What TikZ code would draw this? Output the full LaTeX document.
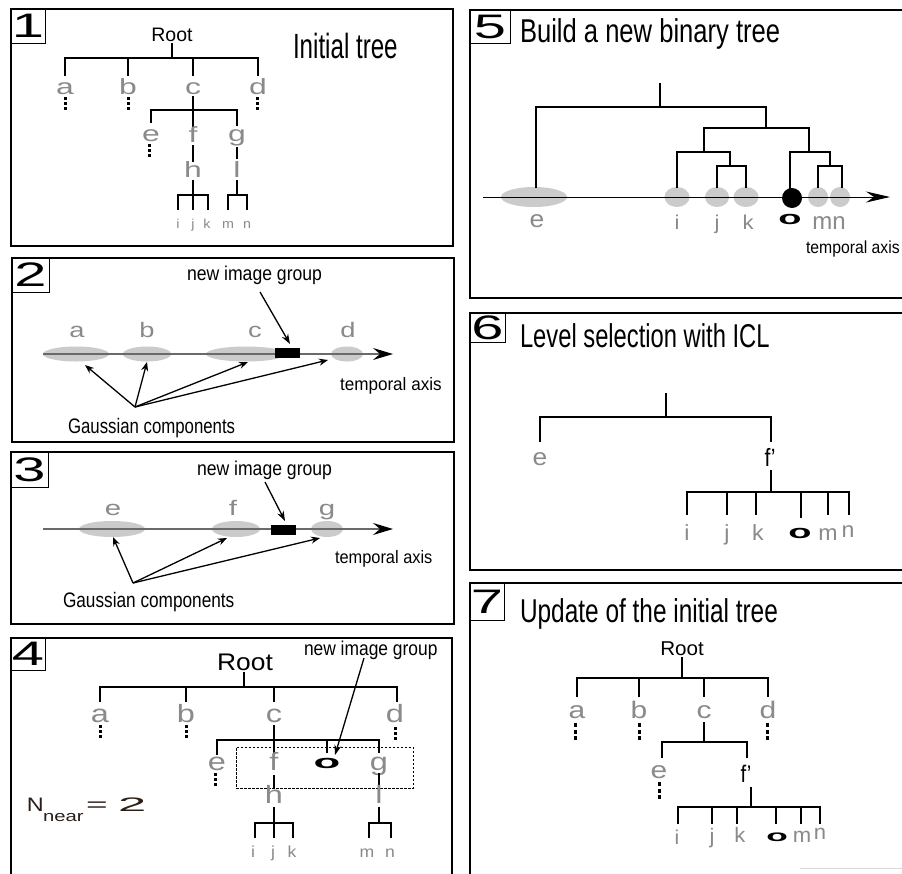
\documentclass[tikz,border=0pt]{standalone}
\usepackage{fontspec}
\setmainfont{Liberation Sans}
\usepackage{graphicx}
\usetikzlibrary{arrows.meta}
\definecolor{lettergray}{HTML}{8A8A8A}
\definecolor{blobgray}{HTML}{CBCBCB}
\definecolor{axisgray}{HTML}{6A6A6A}
\definecolor{nearbrown}{HTML}{2A1E16}
\newcommand{\sx}[3]{\scalebox{#1}[1]{\fontsize{#2}{#2}\selectfont #3}}
\newcommand{\bo}[2]{\scalebox{#1}[1]{\fontsize{#2}{#2}\selectfont\bfseries o}}
\newcommand{\dig}[1]{\sx{1.7}{34}{#1}}
\newcommand{\fprime}{f\symbol{39}}
\begin{document}
\begin{tikzpicture}[x=1pt,y=-1pt,
  every node/.style={inner sep=0pt,outer sep=0pt},
  frame/.style={draw=black,line width=1.2pt},
  numbox/.style={draw=black,line width=0.9pt,anchor=north west},
  txt/.style={anchor=base west,text=black},
  ctr/.style={anchor=base,text=black},
  gl/.style={anchor=base,text=lettergray},
  branch/.style={line width=2.8pt,line join=miter},
  twig/.style={line width=2.2pt,line join=miter},
  vdots/.style={line width=3pt,dash pattern=on 3pt off 2pt},
  vdotsl/.style={line width=3pt,dash pattern=on 4pt off 2.5pt},
  blob/.style={fill=blobgray},
  garrow/.style={line width=1.3pt,-{Stealth[length=9pt,width=7pt]}},
  narrow/.style={line width=1.3pt,-{Stealth[length=10pt,width=7pt]}},
  axisg/.style={draw=axisgray,line width=1.5pt,-{Stealth[length=20pt,width=12pt,inset=7pt,color=black]}},
  axisb/.style={draw=black,line width=1pt,-{Stealth[length=24pt,width=11pt,inset=8pt]}},
  grp/.style={fill=black,minimum width=25pt,minimum height=10pt},
]
\useasboundingbox (0,0) rectangle (902,873);
\fill[white] (0,0) rectangle (902,873);

%================ Panel 1
\draw[frame] (11,9) rectangle (453,246);
\node[numbox,minimum width=34pt,minimum height=34pt] (n1) at (11,9) {\dig{1}};
\node[ctr] (root1) at (172,41) {\sx{1}{19.5}{Root}};
\node[txt] (title1) at (293,58) {\sx{0.69}{35}{Initial tree}};
\draw[branch] (172,43) -- (172,58);
\draw[branch] (65,76) -- (65,58) -- (258,58) -- (258,76);
\draw[branch] (128,58) -- (128,76);
\draw[branch] (193,58) -- (193,76);
\node[gl] (a1) at (65,94) {\sx{1.45}{22}{a}};
\node[gl] (b1) at (128,94) {\sx{1.45}{22}{b}};
\node[gl] (c1) at (193,94) {\sx{1.45}{22}{c}};
\node[gl] (d1) at (258,94) {\sx{1.45}{22}{d}};
\draw[vdots] (65,97) -- (65,110);
\draw[vdots] (128,97) -- (128,110);
\draw[vdots] (257,97) -- (257,110);
\draw[branch] (193,96) -- (193,110);
\draw[branch] (151,123) -- (151,110) -- (237,110) -- (237,126);
\draw[branch] (193,110) -- (193,128);
\node[gl] (e1) at (151,141) {\sx{1.45}{22}{e}};
\node[gl] (f1) at (193,142) {\sx{1.45}{22}{f}};
\node[gl] (g1) at (237,141) {\sx{1.45}{22}{g}};
\draw[vdots] (149,144) -- (149,157);
\draw[branch] (193,145) -- (193,162);
\draw[branch] (237,147) -- (237,159);
\node[gl] (h1) at (193,177) {\sx{1.45}{22}{h}};
\node[gl] (l1) at (237,177) {\sx{1.45}{22}{l}};
\draw[branch] (193,180) -- (193,195);
\draw[twig] (178,210) -- (178,195) -- (208,195) -- (208,210);
\draw[twig] (193,195) -- (193,210);
\draw[branch] (237,180) -- (237,195);
\draw[twig] (228,210) -- (228,195) -- (247,195) -- (247,210);
\node[gl] (i1) at (178,228) {\sx{1.1}{13}{i}};
\node[gl] (j1) at (193,228) {\sx{1.1}{13}{j}};
\node[gl] (k1) at (207,228) {\sx{1.1}{13}{k}};
\node[gl] (m1) at (228,228) {\sx{1.1}{13}{m}};
\node[gl] (nn1) at (247,228) {\sx{1.1}{13}{n}};

%================ Panel 2
\draw[frame] (12,258) rectangle (454,442);
\node[numbox,minimum width=37pt,minimum height=34pt] (n2) at (12,258) {\dig{2}};
\fill[blob] (76,354) ellipse [x radius=33pt,y radius=7.5pt];
\fill[blob] (147,354) ellipse [x radius=24pt,y radius=7.5pt];
\fill[blob] (246,354) ellipse [x radius=40pt,y radius=7.5pt];
\fill[blob] (347,354) ellipse [x radius=16pt,y radius=7.5pt];
\coordinate (ax2s) at (43,354);
\coordinate (ax2e) at (393,354);
\draw[axisg] (ax2s) -- (ax2e);
\node[grp] (grp2) at (287.5,353) {};
\node[gl] (a2) at (77,337) {\sx{1.3}{21}{a}};
\node[gl] (b2) at (147,337) {\sx{1.3}{21}{b}};
\node[gl] (c2) at (255,337) {\sx{1.3}{21}{c}};
\node[gl] (d2) at (348,337) {\sx{1.3}{21}{d}};
\node[txt] (nig2) at (187,280) {\sx{0.88}{20}{new image group}};
\coordinate (nig2t) at (260,292);
\draw[narrow] (nig2t) -- (290,344);
\node[txt] (ta2) at (340,390) {\sx{0.95}{18}{temporal axis}};
\node[txt] (gc2) at (68,433) {\sx{0.8}{21}{Gaussian components}};
\coordinate (gs2) at (135,407);
\draw[garrow] (gs2) -- (85,365);
\draw[garrow] (gs2) -- (147,362);
\draw[garrow] (gs2) -- (248,362);
\draw[garrow] (gs2) -- (328,360);

%================ Panel 3
\draw[frame] (11,452) rectangle (454,624);
\node[numbox,minimum width=37pt,minimum height=35pt] (n3) at (11,452) {\dig{3}};
\fill[blob] (112,529) ellipse [x radius=33pt,y radius=8pt];
\fill[blob] (236,529) ellipse [x radius=24pt,y radius=8pt];
\fill[blob] (327,529) ellipse [x radius=16pt,y radius=8pt];
\coordinate (ax3s) at (43,529);
\coordinate (ax3e) at (393,529);
\draw[axisg] (ax3s) -- (ax3e);
\node[grp] (grp3) at (283.5,530) {};
\node[gl] (e3) at (113,515) {\sx{1.4}{21}{e}};
\node[gl] (f3) at (233,515) {\sx{1.4}{21}{f}};
\node[gl] (g3) at (327,515) {\sx{1.4}{21}{g}};
\node[txt] (nig3) at (197,475) {\sx{0.88}{20}{new image group}};
\coordinate (nig3t) at (265,482);
\draw[narrow] (nig3t) -- (285,521);
\node[txt] (ta3) at (335,563) {\sx{0.91}{18}{temporal axis}};
\node[txt] (gc3) at (63,607) {\sx{0.82}{21}{Gaussian components}};
\coordinate (gs3) at (133,583);
\draw[garrow] (gs3) -- (113,537);
\draw[garrow] (gs3) -- (227,538);
\draw[garrow] (gs3) -- (320,538);

%================ Panel 4
\draw[frame] (11,638) rectangle (452,890);
\node[numbox,minimum width=34pt,minimum height=32pt] (n4) at (11,638) {\dig{4}};
\node[ctr] (root4) at (245,670) {\sx{1.1}{24}{Root}};
\node[txt] (nig4) at (304,655) {\sx{0.87}{20}{new image group}};
\draw[branch] (244,672) -- (244,687);
\draw[branch] (100,702) -- (100,687) -- (397,687) -- (397,702);
\draw[branch] (186,687) -- (186,702);
\draw[branch] (274,687) -- (274,702);
\node[gl] (a4) at (100,722) {\sx{1.3}{25}{a}};
\node[gl] (b4) at (186,722) {\sx{1.3}{25}{b}};
\node[gl] (c4) at (274,722) {\sx{1.3}{25}{c}};
\node[gl] (d4) at (395,722) {\sx{1.3}{25}{d}};
\draw[vdots] (100,725) -- (100,738);
\draw[vdots] (186,725) -- (186,738);
\draw[vdots] (395,727) -- (395,740);
\draw[branch] (274,725) -- (274,740);
\draw[branch] (217,755) -- (217,740) -- (379,740) -- (379,753);
\draw[branch] (274,740) -- (274,757);
\draw[branch] (327,740) -- (327,753);
\node[gl] (e4) at (217,770) {\sx{1.3}{25}{e}};
\node[gl] (f4) at (274,770) {\sx{1.3}{25}{f}};
\node[ctr] (o4) at (327,768) {\bo{2.3}{19}};
\node[gl] (g4) at (379,770) {\sx{1.3}{25}{g}};
\draw[vdots] (215,773) -- (215,786);
\node[draw=black,line width=0.7pt,dash pattern=on 2.5pt off 1.5pt,minimum width=177pt,minimum height=41pt] (near4) at (324.5,767.5) {};
\coordinate (nig4t) at (364,658);
\draw[narrow] (nig4t) -- (335,755);
\draw[branch] (274,775) -- (274,788);
\draw[branch] (379,773) -- (379,787);
\node[gl] (h4) at (274,803) {\sx{1.3}{25}{h}};
\node[gl] (l4) at (379,803) {\sx{1.3}{25}{l}};
\draw[branch] (274,807) -- (274,823);
\draw[twig] (255,838) -- (255,823) -- (293,823) -- (293,838);
\draw[twig] (274,823) -- (274,838);
\draw[branch] (379,807) -- (379,823);
\draw[twig] (369,838) -- (369,823) -- (391,823) -- (391,838);
\node[gl] (i4) at (253,857) {\sx{1.1}{16}{i}};
\node[gl] (j4) at (273,857) {\sx{1.1}{16}{j}};
\node[gl] (k4) at (292,857) {\sx{1.1}{16}{k}};
\node[gl] (m4) at (367,857) {\sx{1.1}{16}{m}};
\node[gl] (nn4) at (390,857) {\sx{1.1}{16}{n}};
\node[txt,text=nearbrown] (N4) at (27,811) {\sx{1.2}{19.5}{N}};
\node[txt,text=nearbrown] (near) at (43,821) {\sx{1.35}{15}{near}};
\node[txt,text=nearbrown] (eq4) at (86,811) {\sx{1.9}{19.5}{=}};
\node[txt,text=nearbrown] (two4) at (118,811) {\sx{2.6}{19.5}{2}};

%================ Panel 5
\draw[frame] (470,10) rectangle (912,298);
\node[numbox,minimum width=40pt,minimum height=33pt] (n5) at (470,10) {\dig{5}};
\node[txt] (title5) at (520,42) {\sx{0.775}{33}{Build a new binary tree}};
\fill[blob] (534,197) ellipse [x radius=33pt,y radius=10pt];
\fill[blob] (677,197) ellipse [x radius=12.5pt,y radius=10pt];
\fill[blob] (717,197) ellipse [x radius=12pt,y radius=10pt];
\fill[blob] (746,197) ellipse [x radius=12.5pt,y radius=10pt];
\fill[blob] (818,197) circle [radius=10pt];
\fill[blob] (840,197) circle [radius=10pt];
\fill[black] (792,198) circle [radius=10pt];
\coordinate (ax5s) at (483,197);
\coordinate (ax5e) at (890,197);
\draw[axisb] (ax5s) -- (ax5e);
\draw[branch] (660,83) -- (660,107);
\draw[twig] (536,188) -- (536,107) -- (766,107) -- (766,128);
\draw[twig] (704,152) -- (704,128) -- (809,128) -- (809,152);
\draw[twig] (677,188) -- (677,152) -- (730,152) -- (730,166);
\draw[twig] (717,188) -- (717,166) -- (746,166) -- (746,188);
\draw[twig] (790,195) -- (790,152) -- (830,152) -- (830,166);
\draw[twig] (818,188) -- (818,166) -- (842,166) -- (842,188);
\node[gl] (e5) at (537,227) {\sx{1.1}{24}{e}};
\node[gl] (i5) at (677,229) {\sx{1.1}{20}{i}};
\node[gl] (j5) at (717,229) {\sx{1.1}{20}{j}};
\node[gl] (k5) at (748,229) {\sx{1.1}{20}{k}};
\node[ctr] (o5) at (790,224) {\bo{2}{19}};
\node[gl] (mn5) at (829,229) {\sx{1.0}{24}{mn}};
\node[txt] (ta5) at (806,253) {\sx{0.9}{17.5}{temporal axis}};

%================ Panel 6
\draw[frame] (470,313) rectangle (912,570);
\node[numbox,minimum width=35pt,minimum height=29pt] (n6) at (470,313) {\dig{6}};
\node[txt] (title6) at (520,347) {\sx{0.72}{33}{Level selection with ICL}};
\draw[branch] (666,393) -- (666,417);
\draw[branch] (540,442) -- (540,417) -- (771,417) -- (771,442);
\node[gl] (e6) at (540,465) {\sx{1.1}{24}{e}};
\node[ctr] (fp6) at (770,466) {\sx{0.85}{25}{\fprime}};
\draw[branch] (771,470) -- (771,492);
\draw[branch] (687,515) -- (687,492) -- (849,492) -- (849,515);
\draw[branch] (727,492) -- (727,515);
\draw[branch] (756,492) -- (756,515);
\draw[branch] (801,492) -- (801,518);
\draw[branch] (828,492) -- (828,515);
\node[gl] (i6) at (687,540) {\sx{1.05}{22}{i}};
\node[gl] (j6) at (727,540) {\sx{1.05}{22}{j}};
\node[gl] (k6) at (758,540) {\sx{1.05}{22}{k}};
\node[ctr] (o6) at (800,538) {\bo{2}{19}};
\node[gl] (m6) at (828,540) {\sx{1.05}{22}{m}};
\node[gl] (nn6) at (848,537) {\sx{1.05}{22}{n}};

%================ Panel 7
\draw[frame] (470,583) rectangle (912,890);
\node[numbox,minimum width=34pt,minimum height=37pt] (n7) at (470,583) {\dig{7}};
\node[txt] (title7) at (520,622) {\sx{0.74}{33}{Update of the initial tree}};
\node[ctr] (root7) at (682,655) {\sx{1.03}{20}{Root}};
\draw[branch] (682,657) -- (682,678);
\draw[branch] (577,697) -- (577,678) -- (768,678) -- (768,697);
\draw[branch] (639,678) -- (639,697);
\draw[branch] (704,678) -- (704,697);
\node[gl] (a7) at (577,718) {\sx{1.25}{24}{a}};
\node[gl] (b7) at (639,718) {\sx{1.25}{24}{b}};
\node[gl] (c7) at (704,718) {\sx{1.25}{24}{c}};
\node[gl] (d7) at (768,718) {\sx{1.25}{24}{d}};
\draw[vdotsl] (575,723) -- (575,740);
\draw[vdotsl] (639,723) -- (639,740);
\draw[vdotsl] (767,723) -- (767,740);
\draw[branch] (704,722) -- (704,742);
\draw[branch] (662,758) -- (662,742) -- (747,742) -- (747,758);
\node[gl] (e7) at (659,778) {\sx{1.25}{24}{e}};
\node[ctr] (fp7) at (746,782) {\sx{0.85}{24}{\fprime}};
\draw[vdotsl] (659,782) -- (659,799);
\draw[branch] (751,787) -- (751,807);
\draw[branch] (678,824) -- (678,807) -- (820,807) -- (820,824);
\draw[branch] (712,807) -- (712,824);
\draw[branch] (737,807) -- (737,824);
\draw[branch] (776,807) -- (776,824);
\draw[branch] (801,807) -- (801,824);
\node[gl] (i7) at (677,844) {\sx{1.05}{20}{i}};
\node[gl] (j7) at (712,843) {\sx{1.05}{21}{j}};
\node[gl] (k7) at (740,842) {\sx{1.05}{21}{k}};
\node[ctr] (o7) at (777,841) {\bo{2.2}{16}};
\node[gl] (m7) at (802,842) {\sx{1.05}{21}{m}};
\node[gl] (nn7) at (820,839) {\sx{1.05}{21}{n}};
\draw[line width=1pt,draw=gray!30] (800,868) -- (902,868);
\end{tikzpicture}
\end{document}
